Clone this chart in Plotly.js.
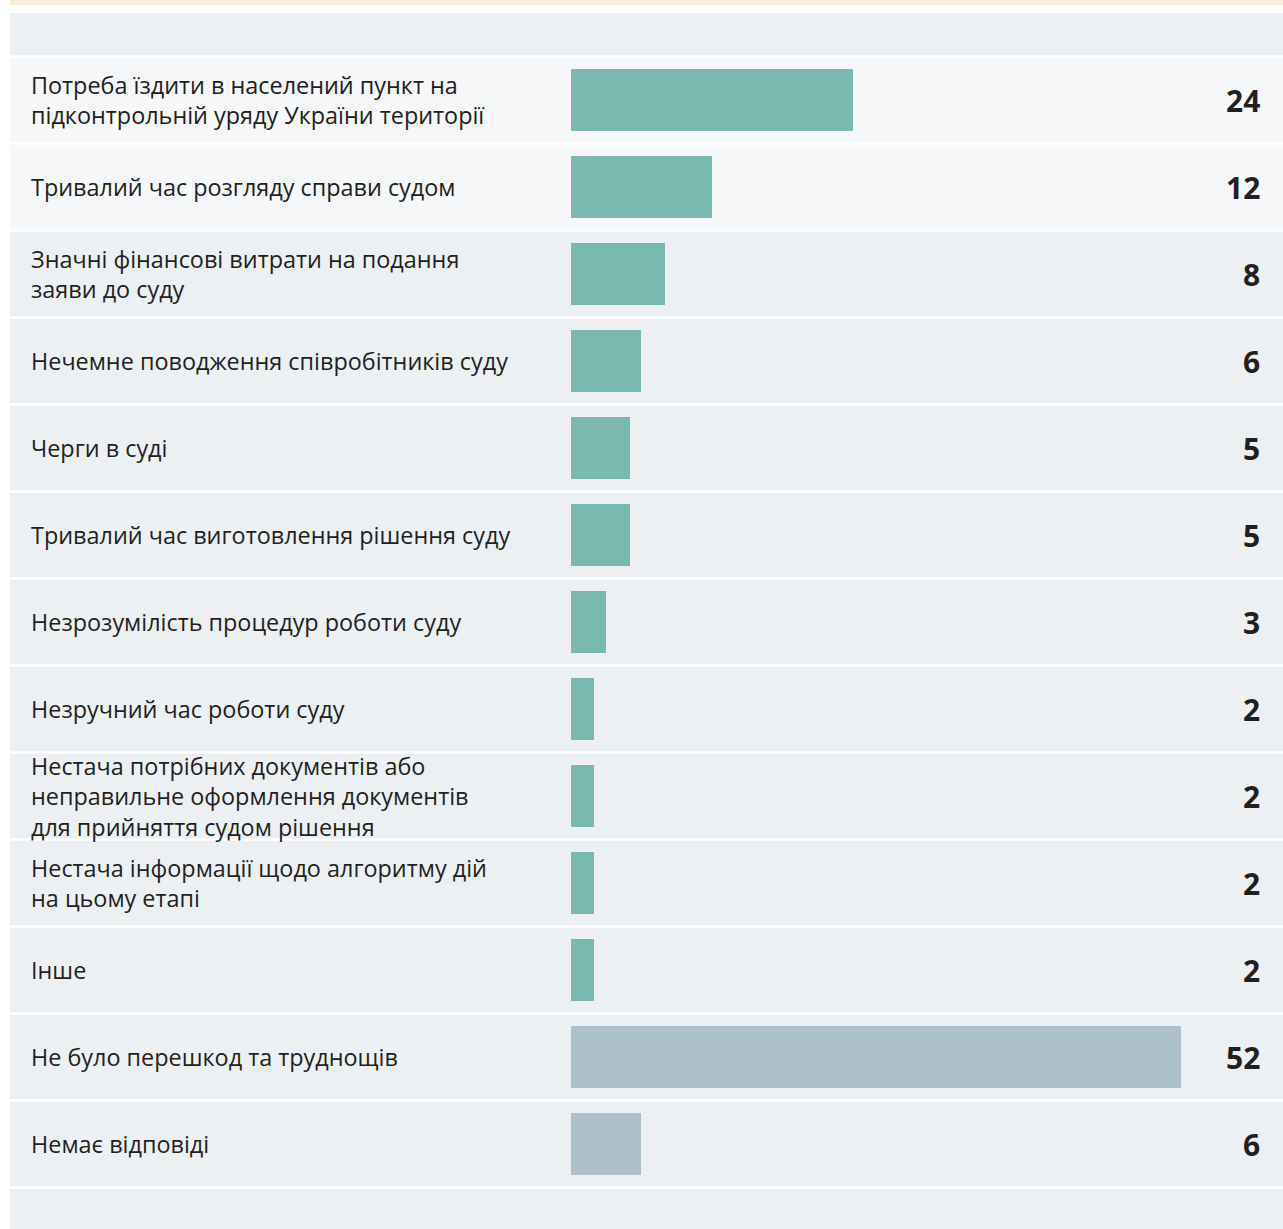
<!DOCTYPE html>
<html>
<head>
<meta charset="utf-8">
<script src="https://cdn.plot.ly/plotly-3.0.1.min.js"></script>
<style>html,body{margin:0;padding:0;background:#fff;}#chart{width:1283px;height:1229px;}</style>
</head>
<body>
<div id="chart"></div>
<script>
const problemLabels = [
  "Потреба їздити в населений пункт на<br>підконтрольній уряду України території",
  "Тривалий час розгляду справи судом",
  "Значні фінансові витрати на подання<br>заяви до суду",
  "Нечемне поводження співробітників суду",
  "Черги в суді",
  "Тривалий час виготовлення рішення суду",
  "Незрозумілість процедур роботи суду",
  "Незручний час роботи суду",
  "Нестача потрібних документів або<br>неправильне оформлення документів<br>для прийняття судом рішення",
  "Нестача інформації щодо алгоритму дій<br>на цьому етапі",
  "Інше"
];
const problemValues = [24, 12, 8, 6, 5, 5, 3, 2, 2, 2, 2];
const otherLabels = ["Не було перешкод та труднощів", "Немає відповіді"];
const otherValues = [52, 6];

const W = 1283, H = 1229;
const allLabels = problemLabels.concat(otherLabels);
const allValues = problemValues.concat(otherValues);
const n = allLabels.length;

const pitch = 87, firstCenter = 100, pxPerUnit = 11.74, barLeft = 571;
const yTop = -firstCenter / pitch;
const yBottom = yTop + H / pitch;
const xMax = (W - barLeft) / pxPerUnit;

const traces = [
  {type: 'bar', orientation: 'h', y: problemLabels, x: problemValues,
   marker: {color: '#78b9b0'}, width: 0.713, hoverinfo: 'x+y', showlegend: false},
  {type: 'bar', orientation: 'h', y: otherLabels, x: otherValues,
   marker: {color: '#aec0ca'}, width: 0.713, hoverinfo: 'x+y', showlegend: false}
];

const gap = 0.015;
const shapes = [];
shapes.push({type: 'rect', xref: 'paper', yref: 'paper', x0: 10 / W, x1: 1, y0: 1 - 5 / H, y1: 1,
  fillcolor: '#fbeddb', line: {width: 0}, layer: 'below'});
shapes.push({type: 'rect', xref: 'paper', yref: 'y', x0: 10 / W, x1: 1, y0: -1.0, y1: -0.5 - gap,
  fillcolor: '#ecf0f3', line: {width: 0}, layer: 'below'});
for (let i = 0; i < n; i++) {
  shapes.push({type: 'rect', xref: 'paper', yref: 'y', x0: 10 / W, x1: 1,
    y0: i - 0.5 + gap, y1: i + 0.5 - gap,
    fillcolor: i < 2 ? '#f5f7f9' : '#ecf0f3', line: {width: 0}, layer: 'below'});
}
shapes.push({type: 'rect', xref: 'paper', yref: 'y', x0: 10 / W, x1: 1, y0: n - 0.5 + gap, y1: yBottom,
  fillcolor: '#ecf0f3', line: {width: 0}, layer: 'below'});

const annotations = [];
for (let i = 0; i < n; i++) {
  annotations.push({xref: 'paper', yref: 'y', x: 29 / W, y: allLabels[i], text: allLabels[i],
    xanchor: 'left', yanchor: 'middle', align: 'left', showarrow: false,
    font: {family: 'Open Sans, sans-serif', size: 23.4, color: '#231f20'}});
  annotations.push({xref: 'paper', yref: 'y', x: 1262 / W, y: allLabels[i], text: '<b>' + allValues[i] + '</b>',
    xanchor: 'right', yanchor: 'middle', align: 'right', showarrow: false,
    font: {family: 'Open Sans, sans-serif', size: 30, color: '#231f20'}});
}

const layout = {
  width: W, height: H,
  margin: {l: 0, r: 0, t: 0, b: 0, pad: 0},
  paper_bgcolor: '#ffffff', plot_bgcolor: 'rgba(0,0,0,0)',
  xaxis: {domain: [barLeft / W, 1], range: [0, xMax], showgrid: false, zeroline: false,
    showticklabels: false, ticks: '', showline: false, fixedrange: true},
  yaxis: {type: 'category', categoryorder: 'array', categoryarray: allLabels,
    range: [yBottom, yTop], showgrid: false, zeroline: false, showticklabels: false,
    ticks: '', showline: false, fixedrange: true},
  shapes: shapes,
  annotations: annotations,
  bargap: 0
};

Plotly.newPlot('chart', traces, layout, {displayModeBar: false, staticPlot: true});
</script>
</body>
</html>
